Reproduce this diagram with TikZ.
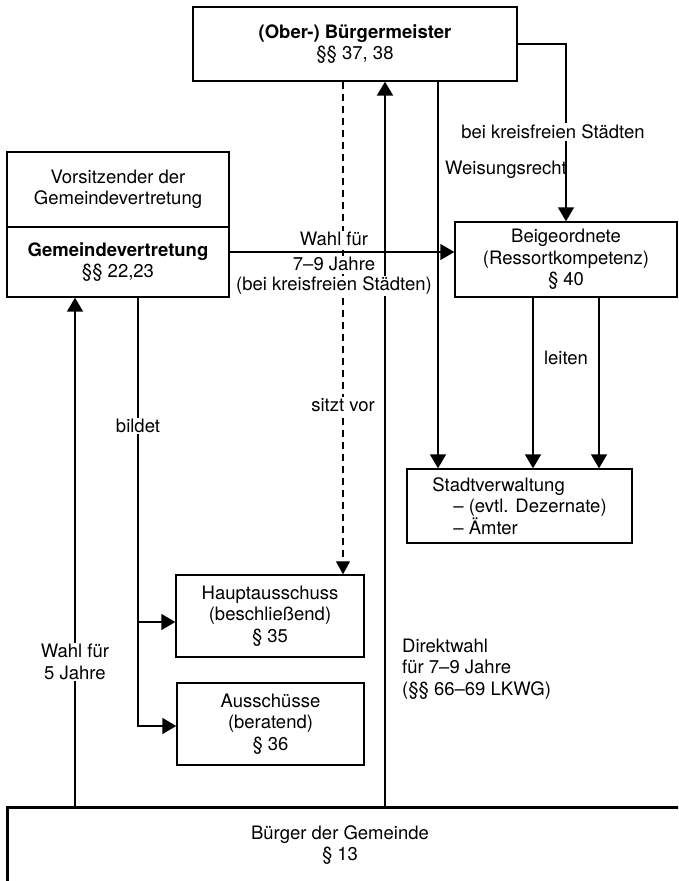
\documentclass[tikz,border=0pt]{standalone}
\usepackage{fontspec}
\setmainfont{TeX Gyre Heros}
\usetikzlibrary{arrows.meta}
\begin{document}
\begin{tikzpicture}[x=1pt,y=-1pt,
  font=\fontsize{18.5}{21.5}\selectfont,
  box/.style={draw, line width=1.4pt, rectangle, align=center, inner sep=0pt},
  conn/.style={line width=1.6pt},
  arr/.style={conn, -{Triangle[width=16pt,length=14pt]}},
  dasharr/.style={line width=1.2pt, dash pattern=on 7pt off 5pt, -{Triangle[width=14pt,length=13pt]}},
  lbl/.style={fill=white, inner sep=1.5pt, align=center},
]
\useasboundingbox (0,0) rectangle (678,881);
\clip (0,0) rectangle (678,881);

% boxes
\node[box, minimum width=324pt, minimum height=74pt] (bm) at (355,44) {\textbf{(Ober-) Bürgermeister}\\§§ 37, 38};
\node[box, minimum width=222pt, minimum height=75pt] (vors) at (118,189.5) {Vorsitzender der\\Gemeindevertretung};
\node[box, minimum width=222pt, minimum height=70pt] (gv) at (118,262) {\textbf{Gemeindevertretung}\\§§ 22,23};
\node[box, minimum width=222pt, minimum height=75pt] (beig) at (566,259.5) {Beigeordnete\\(Ressortkompetenz)\\§ 40};
\node[box, minimum width=225pt, minimum height=74pt, align=left] (stadt) at (519.5,506) {Stadtverwaltung\\\hspace*{21pt}– (evtl. Dezernate)\\\hspace*{21pt}– Ämter};
\node[box, minimum width=188pt, minimum height=82pt] (haupt) at (270,616) {Hauptausschuss\\(beschließend)\\§ 35};
\node[box, minimum width=187pt, minimum height=82pt] (aus) at (270.5,724) {Ausschüsse\\(beratend)\\§ 36};
\node[draw, line width=3pt, minimum width=700pt, minimum height=100pt, inner sep=0pt] (buerger) at (357,857) {};
\node[align=center] (btext) at (340,845) {Bürger der Gemeinde\\§ 13};

% connectors
\draw[arr] (bm.east) -| (beig.north);
\draw[dasharr] (bm.south -| 343,0) -- (haupt.north -| 343,0);
\draw[arr, line width=2.2pt] (buerger.north -| 385,0) -- (bm.south -| 385,0);
\draw[arr] (bm.south -| 438,0) -- (stadt.north -| 438,0);
\draw[arr] (gv.east |- 0,252) -- (beig.west |- 0,252);
\draw[arr] (gv.south -| 138,0) |- (haupt.west |- 0,622);
\draw[arr] (gv.south -| 138,0) |- (aus.west |- 0,726);
\draw[arr] (buerger.north -| 75,0) -- (gv.south -| 75,0);
\draw[arr] (beig.south -| 533,0) -- (stadt.north -| 533,0);
\draw[arr] (beig.south -| 599,0) -- (stadt.north -| 599,0);

% labels
\node[lbl] (lkreis) at (553,132) {bei kreisfreien Städten};
\node[anchor=west, inner sep=0pt] (lweis) at (445,170) {Weisungsrecht};
\node[lbl] (lwahl1) at (334,239) {Wahl für};
\node[lbl] (lwahl2) at (334,264) {7–9 Jahre};
\node[lbl] (lwahl3) at (334,286) {(bei kreisfreien Städten)};
\node[lbl] (lsitzt) at (343,405) {sitzt vor};
\node[lbl] (lleiten) at (566,358) {leiten};
\node[lbl] (lbildet) at (138,426) {bildet};
\node[lbl] (lwahl5) at (75,662) {Wahl für\\5 Jahre};
\node[anchor=west, align=left, inner sep=0pt] (ldirekt) at (402,669) {Direktwahl\\für 7–9 Jahre\\(§§ 66–69 LKWG)};
\end{tikzpicture}
\end{document}
